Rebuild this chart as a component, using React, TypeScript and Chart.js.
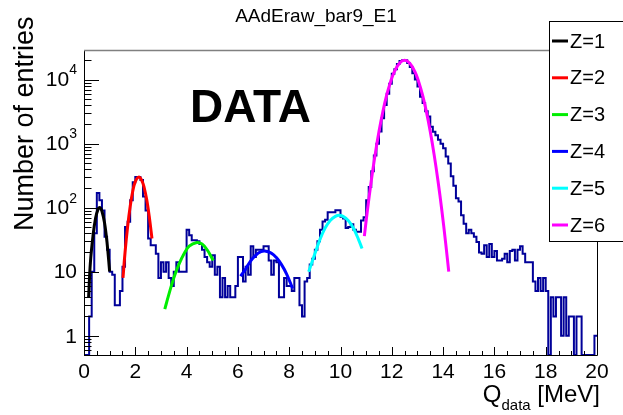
import React, { useEffect, useRef } from "react";
import { Chart, registerables } from "chart.js";

Chart.register(...registerables);

const X_MIN = 0;
const X_MAX = 20;
const BIN_WIDTH = 0.1;
const Y_MIN = 0.5;
const Y_MAX = 29000;

// Histogram contents, 200 bins of 0.1 MeV from 0 to 20 MeV
const binCounts = [
  0, 0, 2, 10, 40, 170, 130, 90, 35, 22,
  10, 9, 3, 3, 5, 12, 50, 60, 130, 250,
  300, 300, 270, 150, 90, 33, 26, 26, 19, 8,
  14, 10, 14, 8, 6, 10, 14, 10, 10, 10,
  45, 37, 31, 31, 30, 27, 22, 17, 14, 12,
  18, 9, 12, 4, 8, 4, 6, 4, 4, 6,
  17, 17, 7, 12, 9, 25, 17, 22, 22, 22,
  25, 25, 15, 9, 15, 14, 4, 4, 8, 6,
  6, 5, 8, 8, 3, 2, 7, 8, 13, 16,
  22, 30, 45, 61, 65, 85, 85, 85, 91, 91,
  72, 68, 48, 50, 55, 45, 42, 42, 63, 71,
  130, 210, 370, 650, 1000, 1550, 2500, 4000, 6000, 8600,
  12300, 14500, 17500, 19500, 20000, 20000, 18200, 15800, 12600, 10000,
  7800, 5400, 4300, 3200, 2650, 1840, 1530, 1350, 1150, 1000,
  850, 630, 490, 310, 220, 140, 125, 76, 56, 40,
  45, 40, 35, 29, 20, 19, 26, 17, 27, 17,
  21, 15, 15, 16, 19, 14, 21, 22, 15, 22,
  25, 19, 14, 14, 14, 7, 5, 8, 5, 8,
  5, 0, 4, 2, 4, 4, 1, 4, 1, 2,
  2, 0, 2, 2, 0, 0, 0, 0, 0, 1,
];

// Fit curves
const fitZ1X = [0.18, 0.25, 0.35, 0.45, 0.55, 0.62, 0.7, 0.8, 0.9, 1.0];
const fitZ1Y = [4, 14, 36, 68, 95, 100, 88, 58, 28, 10];
const fitZ2X = [1.52, 1.6, 1.7, 1.8, 1.9, 2.0, 2.13, 2.25, 2.35, 2.45, 2.55, 2.65];
const fitZ2Y = [8, 20, 50, 104, 180, 255, 300, 267, 202, 130, 70, 33];
const fitZ3X = [3.15, 3.3, 3.5, 3.7, 3.9, 4.1, 4.4, 4.6, 4.8, 5.04];
const fitZ3Y = [2.6, 4.3, 8, 13, 19, 25, 28.5, 27, 22, 15];
const fitZ4X = [6.1, 6.3, 6.5, 6.7, 6.9, 7.05, 7.3, 7.5, 7.7, 7.9, 8.13];
const fitZ4Y = [8.5, 11, 14.8, 18.2, 20.5, 21, 19.5, 16.6, 12.9, 9.2, 5.5];
const fitZ5X = [8.76, 9.0, 9.2, 9.4, 9.6, 9.8, 9.95, 10.1, 10.3, 10.5, 10.7, 10.84];
const fitZ5Y = [10, 19, 32, 48, 63, 73, 76, 73, 63, 48, 32, 23];
const fitZ6X = [10.93, 11.05, 11.2, 11.35, 11.5, 11.65, 11.8, 11.95, 12.1, 12.3, 12.5, 12.7, 12.9, 13.05, 13.2, 13.35, 13.5, 13.65, 13.8, 13.95, 14.1, 14.22];
const fitZ6Y = [36, 91, 263, 674, 1540, 3140, 5700, 9200, 13300, 18000, 20000, 18000, 13300, 9200, 5700, 3140, 1540, 674, 263, 91, 28, 10];

const fitLabels = ["Z=1", "Z=2", "Z=3", "Z=4", "Z=5", "Z=6"];
const fitColors = ["#000000", "#ff0000", "#00ee00", "#0000ff", "#00ffff", "#ff00ff"];
const fitXs = [fitZ1X, fitZ2X, fitZ3X, fitZ4X, fitZ5X, fitZ6X];
const fitYs = [fitZ1Y, fitZ2Y, fitZ3Y, fitZ4Y, fitZ5Y, fitZ6Y];

const xTickValues = [0, 2, 4, 6, 8, 10, 12, 14, 16, 18, 20];
const yTickValues = [1, 10, 100, 1000, 10000];
const yTickBases = ["1", "10", "10", "10", "10"];
const yTickExps = ["", "", "2", "3", "4"];

const TITLE = "AAdEraw_bar9_E1";
const Y_TITLE = "Number of entries";
const FONT = '"Liberation Sans", Arial, Helvetica, sans-serif';

const rootPlugin = {
  id: "rootStyle",
  afterDatasetsDraw(chart: any) {
    const { ctx, chartArea: a } = chart;
    const xs = chart.scales.x;
    const ys = chart.scales.y;
    ctx.save();
    // frame
    ctx.strokeStyle = "#000";
    ctx.lineWidth = 1;
    ctx.beginPath();
    ctx.moveTo(a.left + 0.5, a.top);
    ctx.lineTo(a.left + 0.5, a.bottom + 0.5);
    ctx.lineTo(a.right + 0.5, a.bottom + 0.5);
    ctx.lineTo(a.right + 0.5, a.top);
    ctx.stroke();
    ctx.strokeStyle = "#808080";
    ctx.lineWidth = 1.5;
    ctx.beginPath();
    ctx.moveTo(a.left, a.top + 0.5);
    ctx.lineTo(a.right + 1, a.top + 0.5);
    ctx.stroke();

    // x ticks
    ctx.strokeStyle = "#000";
    ctx.lineWidth = 1;
    ctx.beginPath();
    for (let i = 0; i <= 40; i++) {
      const v = X_MIN + i * 0.5;
      const px = Math.round(xs.getPixelForValue(v)) + 0.5;
      const len = i % 4 === 0 ? 8 : 4;
      ctx.moveTo(px, a.bottom);
      ctx.lineTo(px, a.bottom - len);
    }
    // y ticks
    for (let d = -1; d <= 4; d++) {
      for (let m = 1; m <= 9; m++) {
        const v = m * Math.pow(10, d);
        if (v < Y_MIN || v > Y_MAX) continue;
        const py = Math.round(ys.getPixelForValue(v)) + 0.5;
        const len = m === 1 ? 15 : 7.5;
        ctx.moveTo(a.left, py);
        ctx.lineTo(a.left + len, py);
      }
    }
    ctx.stroke();

    // x tick labels
    ctx.fillStyle = "#000";
    ctx.font = `21px ${FONT}`;
    ctx.textAlign = "center";
    ctx.textBaseline = "middle";
    xTickValues.forEach((v) => {
      ctx.fillText(String(v), xs.getPixelForValue(v), a.bottom + 17);
    });

    // y tick labels
    yTickValues.forEach((v, i) => {
      const py = ys.getPixelForValue(v);
      const right = a.left - 7;
      const exp = yTickExps[i];
      ctx.textBaseline = "middle";
      if (exp) {
        ctx.font = `14px ${FONT}`;
        const w = ctx.measureText(exp).width;
        ctx.textAlign = "right";
        ctx.fillText(exp, right, py - 9);
        ctx.font = `21px ${FONT}`;
        ctx.fillText(yTickBases[i], right - w, py + 1);
      } else {
        ctx.font = `21px ${FONT}`;
        ctx.textAlign = "right";
        ctx.fillText(yTickBases[i], right, py + 1);
      }
    });
    ctx.restore();
  },
  afterDraw(chart: any) {
    const { ctx } = chart;
    ctx.save();
    ctx.fillStyle = "#000";
    // title
    ctx.font = `19px ${FONT}`;
    ctx.textAlign = "center";
    ctx.textBaseline = "middle";
    ctx.fillText(TITLE, 316, 17);

    // DATA
    ctx.font = `bold 46px ${FONT}`;
    ctx.textAlign = "left";
    ctx.textBaseline = "alphabetic";
    ctx.fillText("DATA", 190, 122);

    // y title
    ctx.save();
    ctx.translate(33, 231);
    ctx.rotate(-Math.PI / 2);
    ctx.font = `27px ${FONT}`;
    ctx.textAlign = "left";
    ctx.textBaseline = "alphabetic";
    ctx.fillText(Y_TITLE, 0, 0);
    ctx.restore();

    // x title: Q_data [MeV], right aligned at 600
    ctx.textBaseline = "alphabetic";
    ctx.textAlign = "left";
    ctx.font = `24px ${FONT}`;
    const tail = " [MeV]";
    const wTail = ctx.measureText(tail).width;
    const wQ = ctx.measureText("Q").width;
    ctx.font = `15px ${FONT}`;
    const wSub = ctx.measureText("data").width;
    const xEnd = 600;
    const x0 = xEnd - wTail - wSub - wQ;
    ctx.font = `24px ${FONT}`;
    ctx.fillText("Q", x0, 402);
    ctx.fillText(tail, x0 + wQ + wSub, 402);
    ctx.font = `15px ${FONT}`;
    ctx.fillText("data", x0 + wQ, 410);

    // legend
    const lx = 549.5, ly = 21.5, lw = 100, lh = 220;
    ctx.fillStyle = "#fff";
    ctx.fillRect(lx, ly, lw, lh);
    ctx.strokeStyle = "#000";
    ctx.lineWidth = 1;
    ctx.strokeRect(lx, ly, lw, lh);
    fitLabels.forEach((lab, i) => {
      const cy = 41 + i * 36.8;
      ctx.strokeStyle = fitColors[i];
      ctx.lineWidth = 3;
      ctx.beginPath();
      ctx.moveTo(552, cy);
      ctx.lineTo(568, cy);
      ctx.stroke();
      ctx.fillStyle = "#000";
      ctx.font = `20px ${FONT}`;
      ctx.textAlign = "left";
      ctx.textBaseline = "middle";
      ctx.fillText(lab, 570, cy + 1);
    });
    ctx.restore();
  },
};

export default function App() {
  const ref = useRef<HTMLCanvasElement | null>(null);
  useEffect(() => {
    if (!ref.current) return;
    // empty bins are drawn on the lower edge of the frame, as ROOT does on a log axis
    const histData = binCounts.map((v, i) => ({ x: X_MIN + i * BIN_WIDTH, y: v > 0 ? v : Y_MIN }));
    const last = binCounts[binCounts.length - 1];
    histData.push({ x: X_MAX, y: last > 0 ? last : Y_MIN });

    const fitSets = fitLabels.map((lab, k) => ({
      label: lab,
      data: fitXs[k].map((x, j) => ({ x, y: fitYs[k][j] })),
      borderColor: fitColors[k],
      borderWidth: 3,
      pointRadius: 0,
      tension: 0.4,
      fill: false,
    }));

    const chart = new Chart(ref.current, {
      type: "line",
      data: {
        datasets: [
          ...fitSets,
          {
            label: "hist",
            data: histData,
            borderColor: "#000099",
            borderWidth: 2,
            pointRadius: 0,
            stepped: "before",
            fill: false,
          } as any,
        ],
      },
      options: {
        animation: false,
        responsive: false,
        devicePixelRatio: 1,
        layout: { padding: { left: 84, right: 26, top: 50, bottom: 60 } },
        plugins: { legend: { display: false }, tooltip: { enabled: false }, title: { display: false } },
        scales: {
          x: {
            type: "linear",
            min: X_MIN,
            max: X_MAX,
            grid: { display: false },
            border: { display: false },
            ticks: { display: false },
            afterFit: (s: any) => { s.height = 0; },
          },
          y: {
            type: "logarithmic",
            min: Y_MIN,
            max: Y_MAX,
            grid: { display: false },
            border: { display: false },
            ticks: { display: false },
            afterFit: (s: any) => { s.width = 0; },
          },
        },
      } as any,
      plugins: [rootPlugin],
    });
    return () => chart.destroy();
  }, []);

  return (
    <div style={{ position: "absolute", left: 0, top: 0, width: 623, height: 415, background: "#fff" }}>
      <canvas ref={ref} width={623} height={415} style={{ display: "block" }} />
    </div>
  );
}
